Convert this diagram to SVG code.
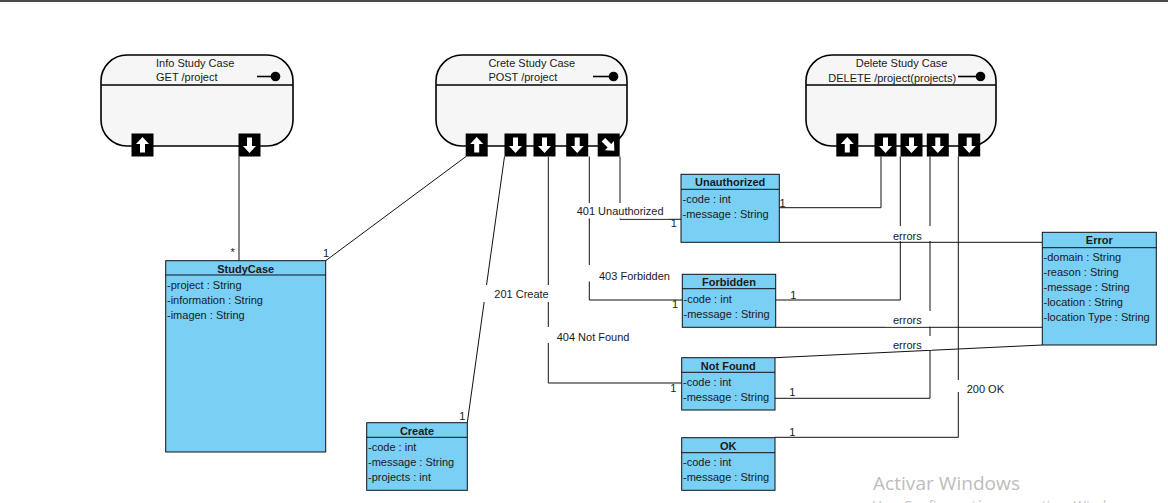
<svg xmlns="http://www.w3.org/2000/svg" xmlns:xlink="http://www.w3.org/1999/xlink" width="1168" height="503" viewBox="0 0 1168 503">
<style>
text{font-family:"Liberation Sans",Arial,sans-serif;font-size:11px;fill:#1a1a1a}
.node{fill:#f6f6f6;stroke:#000;stroke-width:1.6}
.hline{stroke:#000;stroke-width:1.4}
.cls{fill:#7acff5;stroke:#111;stroke-width:1}
.sep{stroke:#111;stroke-width:1}
.nm{font-weight:bold;text-anchor:middle}
.ln{fill:none;stroke:#111;stroke-width:1}
.bg{fill:#fff}
.m{text-anchor:middle}
text.wm1{font-family:"Open Sans","Noto Sans",sans-serif;font-size:19px;fill:#bdbdbd}
text.wm2{font-family:"Open Sans","Noto Sans",sans-serif;font-size:14px;fill:#c4c4c4}
</style>
<defs>
<g id="pu"><rect x="-11" y="-11.5" width="22" height="23" fill="#000"/><path d="M0,-8 L6.5,-1 L2.5,-1 L2.5,7.5 L-2.5,7.5 L-2.5,-1 L-6.5,-1 Z" fill="#fff"/></g>
<g id="pd"><rect x="-11" y="-11.5" width="22" height="23" fill="#000"/><path d="M0,8 L6.5,1 L2.5,1 L2.5,-7.5 L-2.5,-7.5 L-2.5,1 L-6.5,1 Z" fill="#fff"/></g>
<g id="pdr"><rect x="-11" y="-11.5" width="22" height="23" fill="#000"/><path d="M0,8 L6.5,1 L2.5,1 L2.5,-7.5 L-2.5,-7.5 L-2.5,1 L-6.5,1 Z" fill="#fff" transform="rotate(-45)"/></g>
</defs>
<rect x="0" y="0" width="1168" height="503" fill="#fff"/>
<rect x="0" y="0" width="1168" height="2" fill="#4a4a4a"/>

<g id="node-info">
<rect class="node" x="101" y="55" width="192" height="91" rx="26" ry="26"/>
<line class="hline" x1="101" y1="85" x2="293" y2="85"/>
<text x="156" y="66.7">Info Study Case</text>
<text x="156" y="81">GET /project</text>
<line x1="257" y1="76.5" x2="272" y2="76.5" stroke="#000" stroke-width="1.6"/>
<circle cx="275.5" cy="76.5" r="4.8" fill="#000"/>
<use xlink:href="#pu" x="142.5" y="145"/>
<use xlink:href="#pd" x="249.5" y="145"/>
</g>

<g id="node-create">
<rect class="node" x="436" y="55" width="191" height="91" rx="26" ry="26"/>
<line class="hline" x1="436" y1="85" x2="627" y2="85"/>
<text x="488.4" y="66.7">Crete Study Case</text>
<text x="488.4" y="81">POST /project</text>
<line x1="593" y1="76.5" x2="610" y2="76.5" stroke="#000" stroke-width="1.6"/>
<circle cx="613.5" cy="76.5" r="4.8" fill="#000"/>
<use xlink:href="#pu" x="476.7" y="145"/>
<use xlink:href="#pd" x="515.5" y="145"/>
<use xlink:href="#pd" x="544.5" y="145"/>
<use xlink:href="#pd" x="577.2" y="145"/>
<use xlink:href="#pdr" x="608.7" y="145"/>
</g>

<g id="node-delete">
<rect class="node" x="806" y="55" width="190" height="91" rx="26" ry="26"/>
<line class="hline" x1="806" y1="85" x2="996" y2="85"/>
<text x="855.7" y="66.7">Delete Study Case</text>
<text x="828.3" y="81.5">DELETE /project(projects)</text>
<line x1="958" y1="76.5" x2="977" y2="76.5" stroke="#000" stroke-width="1.6"/>
<circle cx="980.5" cy="76.5" r="4.8" fill="#000"/>
<use xlink:href="#pu" x="847.3" y="145"/>
<use xlink:href="#pd" x="885.5" y="145"/>
<use xlink:href="#pd" x="911.5" y="145"/>
<use xlink:href="#pd" x="937.8" y="145"/>
<use xlink:href="#pd" x="969.2" y="145"/>
</g>

<g id="connectors">
<line class="ln" x1="239" y1="156.5" x2="239" y2="260.7"/>
<line class="ln" x1="466" y1="156.5" x2="325.7" y2="260.7"/>
<line class="ln" x1="504.5" y1="156.5" x2="467.3" y2="422.7"/>
<polyline class="ln" points="548.3,156.5 548.3,383 681.7,383"/>
<polyline class="ln" points="589.3,156.5 589.3,300 682.3,300"/>
<polyline class="ln" points="620,156.5 620,219.3 681,219.3"/>
<polyline class="ln" points="881,156.5 881,207.7 779.3,207.7"/>
<polyline class="ln" points="900.3,156.5 900.3,300 775.7,300"/>
<polyline class="ln" points="930,156.5 930,398.3 775,398.3"/>
<polyline class="ln" points="958.3,156.5 958.3,437.3 775,437.3"/>
<line class="ln" x1="779.3" y1="242.3" x2="1042.3" y2="242.3"/>
<line class="ln" x1="775.7" y1="327.3" x2="1042.3" y2="327.3"/>
<line class="ln" x1="775" y1="357.7" x2="1042.3" y2="345"/>
</g>

<g id="connector-labels">
<rect class="bg" x="572" y="203" width="96" height="15.5"/>
<text x="576.7" y="215">401 Unauthorized</text>
<rect class="bg" x="587" y="265" width="88" height="16.5"/>
<text x="599" y="279.5">403 Forbidden</text>
<rect class="bg" x="483" y="285" width="68" height="17"/>
<text x="494.3" y="298">201 Create</text>
<rect class="bg" x="545" y="327" width="91" height="16"/>
<text x="556.7" y="340.7">404 Not Found</text>
<rect class="bg" x="885" y="226" width="47" height="15"/>
<text x="893" y="239.5">errors</text>
<rect class="bg" x="885" y="311" width="47" height="15.5"/>
<text x="893" y="324">errors</text>
<rect class="bg" x="885" y="336" width="47" height="14"/>
<text x="893" y="349">errors</text>
<rect class="bg" x="955" y="380" width="52" height="12"/>
<text x="966.7" y="393">200 OK</text>
</g>

<g id="multiplicities">
<text class="m" x="232.7" y="256">*</text>
<text class="m" x="326" y="256.7">1</text>
<text class="m" x="462.3" y="419.7">1</text>
<text class="m" x="673.8" y="227.3">1</text>
<text class="m" x="782.5" y="207.3">1</text>
<text class="m" x="675" y="308.3">1</text>
<text class="m" x="793.3" y="299">1</text>
<text class="m" x="673.3" y="392">1</text>
<text class="m" x="792.3" y="395.7">1</text>
<text class="m" x="792.3" y="436.3">1</text>
</g>

<g id="class-studycase">
<rect class="cls" x="165.7" y="260.7" width="160" height="191.3"/>
<line class="sep" x1="165.7" y1="275" x2="325.7" y2="275"/>
<text class="nm" x="245.7" y="272.5">StudyCase</text>
<text x="167" y="289.2">-project : String</text>
<text x="167" y="304.2">-information : String</text>
<text x="167" y="319.2">-imagen : String</text>
</g>

<g id="class-create">
<rect class="cls" x="366.7" y="422.7" width="100.6" height="67.6"/>
<line class="sep" x1="366.7" y1="437.3" x2="467.3" y2="437.3"/>
<text class="nm" x="417" y="434.5">Create</text>
<text x="368" y="451">-code : int</text>
<text x="368" y="466">-message : String</text>
<text x="368" y="481">-projects : int</text>
</g>

<g id="class-unauthorized">
<rect class="cls" x="681" y="174.3" width="98.3" height="68"/>
<line class="sep" x1="681" y1="189.3" x2="779.3" y2="189.3"/>
<text class="nm" x="730.2" y="186.3">Unauthorized</text>
<text x="682.5" y="203">-code : int</text>
<text x="682.5" y="218">-message : String</text>
</g>

<g id="class-forbidden">
<rect class="cls" x="682.3" y="274.3" width="93.4" height="53"/>
<line class="sep" x1="682.3" y1="288.7" x2="775.7" y2="288.7"/>
<text class="nm" x="729" y="286">Forbidden</text>
<text x="683.5" y="302.8">-code : int</text>
<text x="683.5" y="317.8">-message : String</text>
</g>

<g id="class-notfound">
<rect class="cls" x="681.7" y="357.7" width="93.3" height="52.3"/>
<line class="sep" x1="681.7" y1="372.3" x2="775" y2="372.3"/>
<text class="nm" x="728.3" y="369.5">Not Found</text>
<text x="683" y="386.2">-code : int</text>
<text x="683" y="401.2">-message : String</text>
</g>

<g id="class-ok">
<rect class="cls" x="681.7" y="437.7" width="93.3" height="52.6"/>
<line class="sep" x1="681.7" y1="452.7" x2="775" y2="452.7"/>
<text class="nm" x="728.3" y="449.5">OK</text>
<text x="683" y="466.2">-code : int</text>
<text x="683" y="481.2">-message : String</text>
</g>

<g id="class-error">
<rect class="cls" x="1042.3" y="232.3" width="114" height="112.7"/>
<line class="sep" x1="1042.3" y1="247.7" x2="1156.3" y2="247.7"/>
<text class="nm" x="1099.3" y="244.3">Error</text>
<text x="1043.5" y="260.8">-domain : String</text>
<text x="1043.5" y="275.8">-reason : String</text>
<text x="1043.5" y="290.8">-message : String</text>
<text x="1043.5" y="305.8">-location : String</text>
<text x="1043.5" y="320.8">-location Type : String</text>
</g>

<text class="wm1" x="873" y="490" textLength="147" lengthAdjust="spacingAndGlyphs">Activar Windows</text>
<text class="wm2" x="873" y="511" textLength="262" lengthAdjust="spacingAndGlyphs">Ve a Configuración para activar Windows.</text>
</svg>
